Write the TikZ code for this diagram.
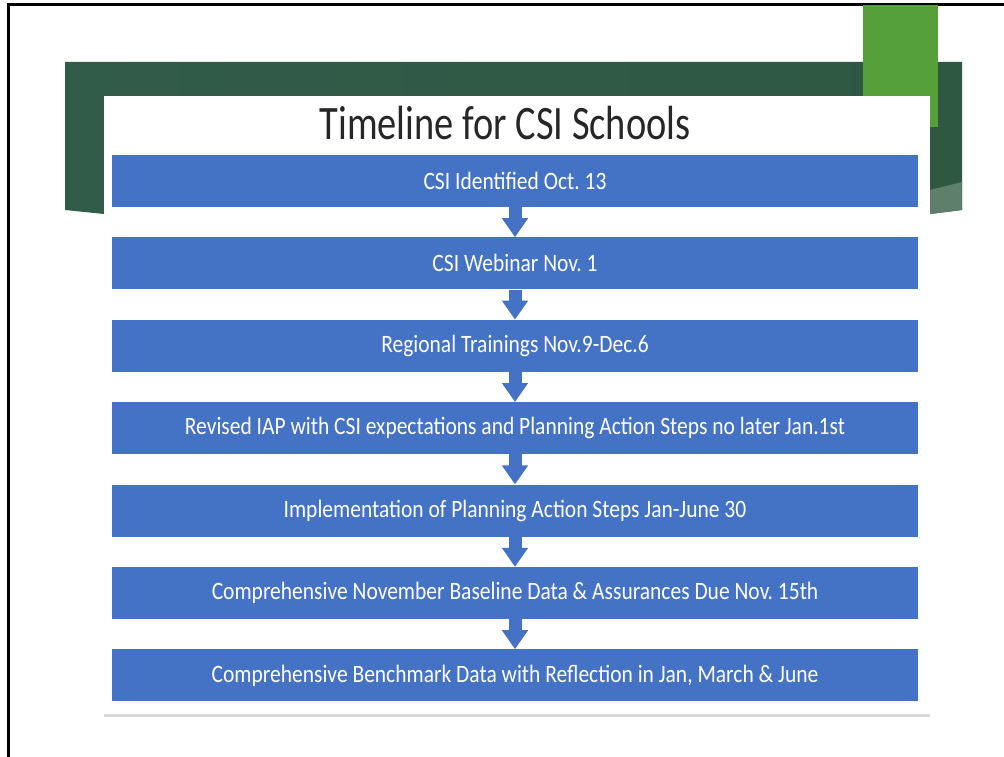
\documentclass[tikz,border=0pt]{standalone}
\usepackage{fontspec}
\setmainfont{Carlito}
\newfontfamily\boxfont[FakeStretch=0.86]{Carlito}
\newfontfamily\titlefont[FakeStretch=0.8]{Carlito}
\usepackage{tikz}
\usetikzlibrary{positioning,arrows.meta}
\definecolor{csiblue}{HTML}{4472C4}
\definecolor{bandL}{HTML}{325C4A}
\definecolor{bandM}{HTML}{477266}
\definecolor{bandR}{HTML}{2E5842}
\definecolor{bandfacet}{HTML}{5F7F6D}
\definecolor{leafgreen}{HTML}{55A03A}
\definecolor{shadowgray}{HTML}{D9D9D9}
\frenchspacing

\begin{document}
\begin{tikzpicture}[x=1pt,y=-1pt,
  stage/.style={fill=csiblue,text=white,minimum width=806pt,minimum height=52pt,
    inner sep=0pt,font=\boxfont\fontsize{25}{28}\selectfont},
  flow/.style={draw=csiblue,line width=13pt,-{Triangle[width=25pt,length=19pt]}}
]
  \useasboundingbox (0,0) rectangle (1004,757);

  % рамка слайда
  \draw[line width=3pt] (1004,5) -- (8,5) -- (8,757);

  % тёмно-зелёная лента
  \shade[left color=bandL,middle color=bandM,right color=bandR]
    (65,62) -- (962,62) -- (962,210) -- (930,214) -- (104,214) -- (65,210) -- cycle;
  \fill[bandfacet] (930,190) -- (962,182) -- (962,210) -- (930,214) -- cycle;

  % светло-зелёный прямоугольник
  \fill[leafgreen] (863,5) rectangle (938,127);

  % белая панель
  \fill[white] (104,96) rectangle (930,713);
  \draw[shadowgray,line width=3pt] (104,715) -- (930,715);

  % заголовок
  \node[font=\titlefont\fontsize{48}{52}\selectfont,text=black!85,anchor=base]
    (title) at (505,140) {Timeline for CSI Schools};

  % этапы
  \node[stage] (s1) at (515,181) {CSI Identified Oct. 13};
  \node[stage,below=30pt of s1] (s2) {CSI Webinar Nov. 1};
  \node[stage,below=30pt of s2] (s3) {Regional Trainings Nov.9-Dec.6};
  \node[stage,below=30pt of s3] (s4) {Revised IAP with CSI expectations and Planning Action Steps no later Jan.1st};
  \node[stage,below=30pt of s4] (s5) {Implementation of Planning Action Steps Jan-June 30};
  \node[stage,below=30pt of s5] (s6) {Comprehensive November Baseline Data \& Assurances Due Nov. 15th};
  \node[stage,below=30pt of s6] (s7) {Comprehensive Benchmark Data with Reflection in Jan, March \& June};

  % стрелки
  \foreach \a/\b in {s1/s2,s2/s3,s3/s4,s4/s5,s5/s6,s6/s7}
    \draw[flow] (\a.south) -- (\b.north);
\end{tikzpicture}
\end{document}
